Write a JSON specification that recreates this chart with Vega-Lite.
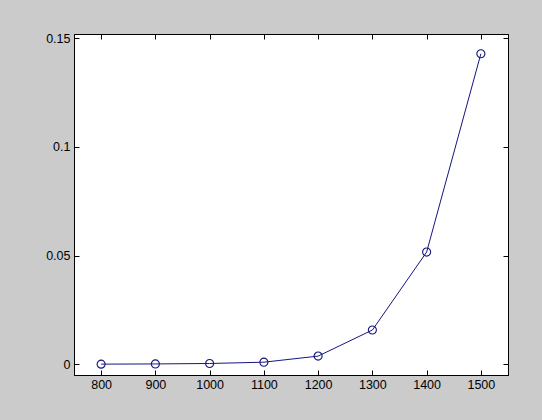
{
  "$schema": "https://vega.github.io/schema/vega-lite/v6.json",
  "autosize": "none",
  "width": 434,
  "height": 341,
  "padding": {"left": 74, "top": 34, "right": 34, "bottom": 45},
  "background": "#cbcbcb",
  "config": {
    "view": {"fill": "white", "stroke": "black", "strokeWidth": 1},
    "axis": {
      "labelFont": "Liberation Sans",
      "labelFontSize": 12.5,
      "labelColor": "#000000",
      "domain": true,
      "domainColor": "black",
      "tickColor": "black",
      "tickSize": -5,
      "grid": false,
      "title": null
    }
  },
  "data": {
    "values": [
      {"x": 800, "y": 0.0},
      {"x": 900, "y": 0.0001},
      {"x": 1000, "y": 0.0003},
      {"x": 1100, "y": 0.0009},
      {"x": 1200, "y": 0.0037},
      {"x": 1300, "y": 0.0157},
      {"x": 1400, "y": 0.0516},
      {"x": 1500, "y": 0.1429}
    ]
  },
  "layer": [
    {
      "mark": {"type": "line", "color": "#16167e", "strokeWidth": 1, "point": {"filled": false, "shape": "circle", "size": 65, "color": "#16167e", "strokeWidth": 1.1}},
      "encoding": {
        "x": {"field": "x", "type": "quantitative", "scale": {"domain": [750, 1550], "nice": false, "zero": false},
              "axis": {"values": [800, 900, 1000, 1100, 1200, 1300, 1400, 1500], "format": "d", "labelPadding": 8}},
        "y": {"field": "y", "type": "quantitative", "scale": {"domain": [-0.005, 0.152], "nice": false, "zero": false},
              "axis": {"values": [0, 0.05, 0.1, 0.15], "labelPadding": 9, "labelExpr": "datum.value == 0 ? '0' : format(datum.value, '')"}}
      }
    },
    {
      "mark": {"type": "point", "opacity": 0},
      "encoding": {
        "x": {"field": "x", "type": "quantitative", "scale": {"domain": [750, 1550], "nice": false, "zero": false},
              "axis": {"orient": "top", "values": [800, 900, 1000, 1100, 1200, 1300, 1400, 1500], "labels": false}},
        "y": {"field": "y", "type": "quantitative", "scale": {"domain": [-0.005, 0.152], "nice": false, "zero": false},
              "axis": {"orient": "right", "values": [0, 0.05, 0.1, 0.15], "labels": false}}
      }
    }
  ],
  "resolve": {"axis": {"x": "independent", "y": "independent"}}
}
